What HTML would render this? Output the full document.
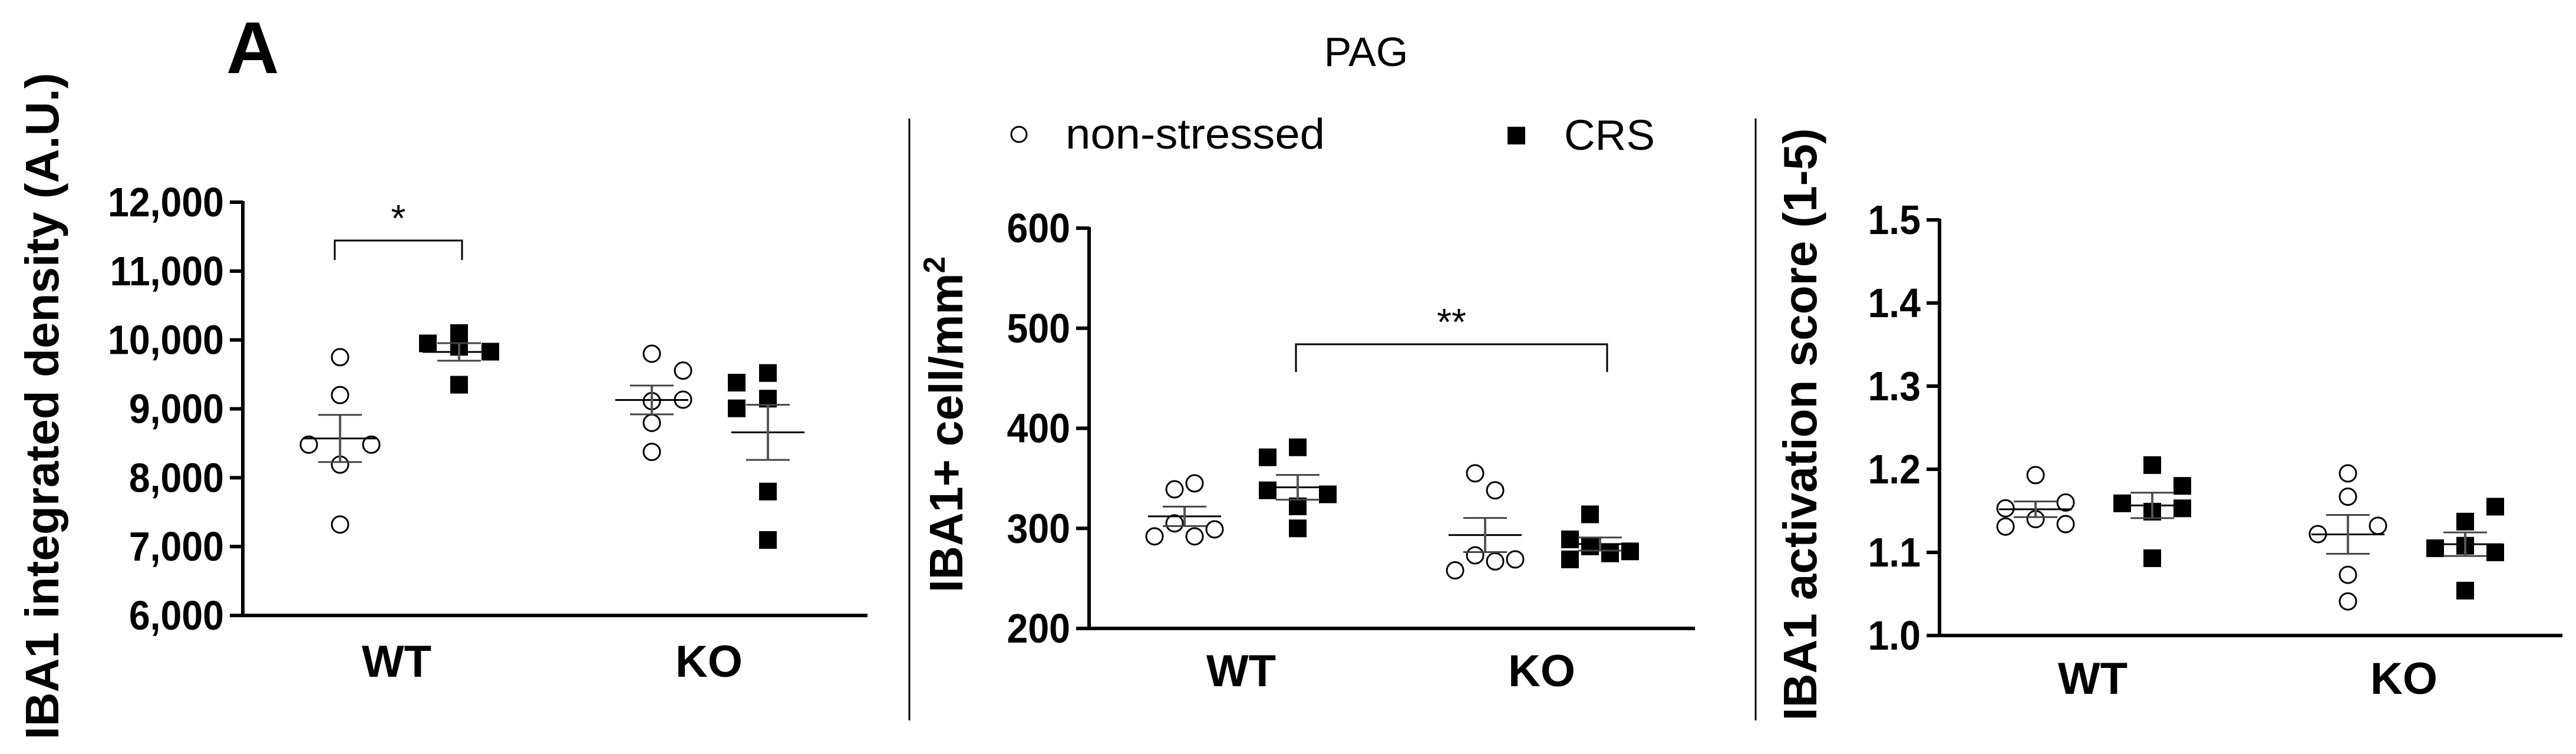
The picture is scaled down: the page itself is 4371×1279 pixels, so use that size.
<!DOCTYPE html>
<html><head><meta charset="utf-8"><style>
html,body{margin:0;padding:0;background:#fff;}
svg{display:block;}
text{font-family:"Liberation Sans",Arial,sans-serif;}
</style></head><body>
<svg id="fig" width="4371" height="1279" viewBox="0 0 4371 1279" xmlns="http://www.w3.org/2000/svg">
<rect width="4371" height="1279" fill="#fff"/>
<text x="384" y="124" font-size="124" font-weight="bold">A</text>
<text x="2318" y="112" font-size="70" text-anchor="middle">PAG</text>
<line x1="1543" y1="201" x2="1543" y2="1222" stroke="#000" stroke-width="3"/>
<line x1="2979" y1="201" x2="2979" y2="1222" stroke="#000" stroke-width="3"/>
<g>
<circle cx="1729" cy="228" r="13" fill="#fff" stroke="#000" stroke-width="3"/>
<text x="1808" y="252" font-size="72" textLength="440" lengthAdjust="spacingAndGlyphs">non-stressed</text>
<rect x="2558" y="215" width="30" height="30" fill="#000"/>
<text x="2654" y="254" font-size="72" textLength="154" lengthAdjust="spacingAndGlyphs">CRS</text>
</g>
<g id="p1"></g>
<g id="p2"></g>
<g id="p3"></g>
</svg>
<script>
// ---- Panel 1 data: IBA1 integrated density ----
const p1Ticks = [6000, 7000, 8000, 9000, 10000, 11000, 12000];
const p1TickLabels = ["6,000", "7,000", "8,000", "9,000", "10,000", "11,000", "12,000"];
const p1WtNs = [9750, 9200, 8480, 8480, 8190, 7320];
const p1WtNsJitter = [0, 0, -1, 1, 0, 0];
const p1WtCrs = [9950, 10100, 9900, 9830, 9350];
const p1WtCrsJitter = [-1, 0, 0, 1, 0];
const p1KoNs = [9800, 9555, 9112, 9133, 8796, 8375];
const p1KoNsJitter = [0, 1, 0, 1, 0, 0];
const p1KoCrs = [9380, 9520, 9007, 9148, 7799, 7096];
const p1KoCrsJitter = [-1, 0, -1, 0, 0, 0];

// ---- Panel 2 data: IBA1+ cell/mm2 ----
const p2Ticks = [200, 300, 400, 500, 600];
const p2TickLabels = ["200", "300", "400", "500", "600"];
const p2WtNs = [339, 345, 305, 292, 292, 299];
const p2WtNsJitter = [-0.5, 0.5, -0.5, -1.5, 0.5, 1.5];
const p2WtCrs = [371, 381, 338, 334, 322, 300];
const p2WtCrsJitter = [-1.5, 0, -1.5, 1.5, 0, 0];
const p2KoNs = [355, 338, 273, 258, 267, 269];
const p2KoNsJitter = [-0.5, 0.5, -0.5, -1.5, 0.5, 1.5];
const p2KoCrs = [314, 289, 282, 269, 275, 277];
const p2KoCrsJitter = [-0.5, -1.5, -0.5, -1.5, 0.5, 1.5];

// ---- Panel 3 data: IBA1 activation score ----
const p3Ticks = [1.0, 1.1, 1.2, 1.3, 1.4, 1.5];
const p3TickLabels = ["1.0", "1.1", "1.2", "1.3", "1.4", "1.5"];
const p3WtNs = [1.193, 1.153, 1.16, 1.131, 1.14, 1.134];
const p3WtNsJitter = [0, -1, 1, -1, 0, 1];
const p3WtCrs = [1.205, 1.18, 1.159, 1.153, 1.149, 1.093];
const p3WtCrsJitter = [0, 1, -1, 1, 0, 0];
const p3KoNs = [1.195, 1.167, 1.132, 1.122, 1.073, 1.041];
const p3KoNsJitter = [0, 0, 1, -1, 0, 0];
const p3KoCrs = [1.137, 1.155, 1.105, 1.108, 1.1, 1.054];
const p3KoCrsJitter = [0, 1, -1, 0, 1, 0];

const categories = ["WT", "KO"];

const NS = "http://www.w3.org/2000/svg";
function mk(parent, tag, attrs) {
  const e = document.createElementNS(NS, tag);
  for (const k in attrs) e.setAttribute(k, attrs[k]);
  parent.appendChild(e);
  return e;
}
function mean(a) { return a.reduce((s, v) => s + v, 0) / a.length; }
function sem(a) {
  const m = mean(a);
  const sd = Math.sqrt(a.reduce((s, v) => s + (v - m) * (v - m), 0) / (a.length - 1));
  return sd / Math.sqrt(a.length);
}

function drawPanel(cfg) {
  const g = document.getElementById(cfg.id);
  const y = v => cfg.yBot - (v - cfg.min) / (cfg.max - cfg.min) * (cfg.yBot - cfg.yTop);
  const ya = mk(g, "line", {x1: cfg.ax, y1: cfg.yTop - 2, x2: cfg.ax, y2: cfg.yBot + 3, stroke: "#000", "stroke-width": 6});
  
  
  const xa = mk(g, "line", {x1: cfg.ax - 22, y1: cfg.yBot, x2: cfg.xEnd, y2: cfg.yBot, stroke: "#000", "stroke-width": 6});
  
  
  cfg.ticks.forEach((t, i) => {
    const tl = mk(g, "line", {x1: cfg.ax - 22, y1: y(t), x2: cfg.ax, y2: y(t), stroke: "#000", "stroke-width": 6});
    
    
    const tg = mk(g, "g", {transform: "translate(" + (cfg.ax - 32) + "," + (y(t) + 24) + ") scale(0.92,1)"});
    const tx = mk(tg, "text", {x: 0, y: 0, "font-size": 70, "font-weight": "bold", "text-anchor": "end"});
    tx.textContent = cfg.tickLabels[i];
    
    
  });
  categories.forEach((c, i) => {
    const tx = mk(g, "text", {x: cfg.catX[i], y: cfg.catBase + 4, "font-size": 76, "font-weight": "bold", "text-anchor": "middle"});
    tx.textContent = c;
    
    
  });
  const tt = mk(g, "text", {x: 0, y: 0, "font-size": 80, "font-weight": "bold", "text-anchor": "middle",
    transform: "translate(" + (cfg.titleX + 29) + "," + cfg.titleY + ") rotate(-90)",
    textLength: cfg.titleLen, lengthAdjust: "spacingAndGlyphs"});
  tt.innerHTML = cfg.title;
  
  
  cfg.groups.forEach(gr => {
    const cx = gr.x;
    gr.vals.forEach((v, i) => {
      const px = cx + gr.jit[i] * cfg.jit;
      let m;
      if (gr.filled) {
        m = mk(g, "rect", {x: px - 15, y: y(v) - 15, width: 30, height: 30, fill: "#000"});
        
      } else {
        m = mk(g, "circle", {cx: px, cy: y(v), r: 14, fill: "#fff", stroke: "#000", "stroke-width": 3});
        
      }
      
    });
    const m = mean(gr.vals), s = sem(gr.vals);
    const ml = mk(g, "line", {x1: cx - 62, y1: y(m), x2: cx + 62, y2: y(m), stroke: "#000", "stroke-width": 3});
    
    
    const vl = mk(g, "line", {x1: cx, y1: y(m + s), x2: cx, y2: y(m - s), stroke: "#555", "stroke-width": 4});
    
    
    [m + s, m - s].forEach(e => {
      const c = mk(g, "line", {x1: cx - 37, y1: y(e), x2: cx + 37, y2: y(e), stroke: "#444", "stroke-width": 3});
      
      
    });
  });
  if (cfg.bracket) {
    const b = cfg.bracket;
    const p = mk(g, "path", {d: "M" + b.x1 + "," + b.yb + " V" + b.yt + " H" + b.x2 + " V" + b.yb, fill: "none", stroke: "#000", "stroke-width": 3});
    
    
    const st = mk(g, "text", {x: (b.x1 + b.x2) / 2, y: b.yt - 16, "font-size": 64, "text-anchor": "middle"});
    st.textContent = b.label;
    
    
  }
}

drawPanel({id: "p1", ax: 412, xEnd: 1472, yTop: 343, yBot: 1044, min: 6000, max: 12000,
  ticks: p1Ticks, tickLabels: p1TickLabels, catX: [673, 1203], catBase: 1144, jit: 53,
  titleX: 70, titleY: 689, titleLen: 1131, title: "IBA1 integrated density (A.U.)",
  groups: [
    {x: 577, vals: p1WtNs, jit: p1WtNsJitter, filled: false},
    {x: 779, vals: p1WtCrs, jit: p1WtCrsJitter, filled: true},
    {x: 1106, vals: p1KoNs, jit: p1KoNsJitter, filled: false},
    {x: 1303, vals: p1KoCrs, jit: p1KoCrsJitter, filled: true}],
  bracket: {x1: 568, x2: 784, yt: 408, yb: 441, label: "*"}});

drawPanel({id: "p2", ax: 1848, xEnd: 2876, yTop: 387, yBot: 1066, min: 200, max: 600,
  ticks: p2Ticks, tickLabels: p2TickLabels, catX: [2106, 2616], catBase: 1160, jit: 34,
  titleX: 1604, titleY: 720, titleLen: 570, title: "IBA1+ cell/mm<tspan dy=\"-30\" font-size=\"52\">2</tspan>",
  groups: [
    {x: 2010, vals: p2WtNs, jit: p2WtNsJitter, filled: false},
    {x: 2202, vals: p2WtCrs, jit: p2WtCrsJitter, filled: true},
    {x: 2520, vals: p2KoNs, jit: p2KoNsJitter, filled: false},
    {x: 2715, vals: p2KoCrs, jit: p2KoCrsJitter, filled: true}],
  bracket: {x1: 2199, x2: 2727, yt: 584, yb: 631, label: "**"}});

drawPanel({id: "p3", ax: 3291, xEnd: 4348, yTop: 373, yBot: 1078, min: 1.0, max: 1.5,
  ticks: p3Ticks, tickLabels: p3TickLabels, catX: [3551, 4079], catBase: 1173, jit: 51,
  titleX: 3053, titleY: 720, titleLen: 1005, title: "IBA1 activation score (1-5)",
  groups: [
    {x: 3454, vals: p3WtNs, jit: p3WtNsJitter, filled: false},
    {x: 3652, vals: p3WtCrs, jit: p3WtCrsJitter, filled: true},
    {x: 3984, vals: p3KoNs, jit: p3KoNsJitter, filled: false},
    {x: 4183, vals: p3KoCrs, jit: p3KoCrsJitter, filled: true}]});
</script>
</body></html>
